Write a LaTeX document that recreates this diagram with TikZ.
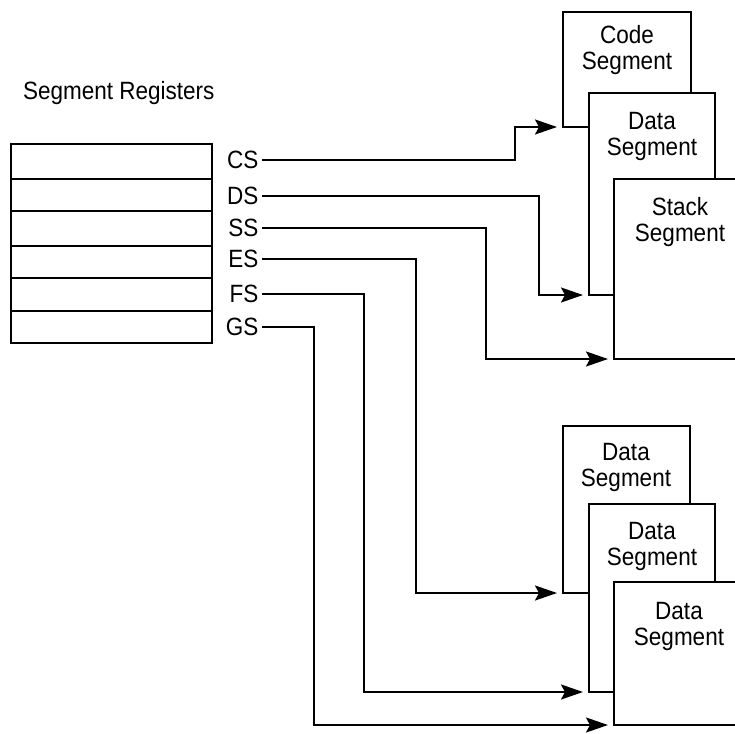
\documentclass[tikz,border=0pt]{standalone}
\usepackage{fontspec}
\setmainfont{Liberation Sans}[FakeStretch=0.9]
\usetikzlibrary{arrows.meta}
\begin{document}
\begin{tikzpicture}[x=1pt,y=-1pt,line width=2.2pt,
  reg/.style={draw, minimum width=201pt, inner sep=0pt, outer sep=0pt, anchor=north west},
  seg/.style={draw, fill=white, inner sep=0pt, outer sep=0pt, anchor=north west},
  lbl/.style={font=\fontsize{25}{26}\selectfont, align=center, inner sep=0pt},
  rlbl/.style={lbl, inner xsep=2.5pt, anchor=east},
  arr/.style={-{Stealth[length=22pt 0 0,width=15pt 0 0,inset=4pt 0]}, shorten >=6pt}]
\useasboundingbox (0,0) rectangle (734,734);
\fill[white] (0,0) rectangle (734,734);

% title
\node[lbl, anchor=base west] (title) at (22,99) {Segment Registers};

% register stack
\node[reg, minimum height=35pt] (r1) at (11,144) {};
\node[reg, minimum height=32pt] (r2) at (11,179) {};
\node[reg, minimum height=35pt] (r3) at (11,211) {};
\node[reg, minimum height=32pt] (r4) at (11,246) {};
\node[reg, minimum height=33pt] (r5) at (11,278) {};
\node[reg, minimum height=32pt] (r6) at (11,311) {};

% register labels
\node[rlbl] (cs) at (262,160) {CS};
\node[rlbl] (ds) at (262,196) {DS};
\node[rlbl] (ss) at (262,228) {SS};
\node[rlbl] (es) at (262,259) {ES};
\node[rlbl] (fs) at (262,294) {FS};
\node[rlbl] (gs) at (262,327) {GS};

% upper segments
\node[seg, minimum width=128pt, minimum height=115pt] (code) at (563,12) {};
\node[seg, minimum width=126pt, minimum height=202pt] (data1) at (589,93) {};
\node[seg, minimum width=132pt, minimum height=180pt] (stack) at (614,179) {};
\node[lbl] (tcode) at (627,50) {Code\\Segment};
\node[lbl] (tdata1) at (652,136) {Data\\Segment};
\node[lbl] (tstack) at (680,222) {Stack\\Segment};

% lower segments
\node[seg, minimum width=127pt, minimum height=167pt] (bdata1) at (563,426) {};
\node[seg, minimum width=126pt, minimum height=188pt] (bdata2) at (589,504) {};
\node[seg, minimum width=132pt, minimum height=143pt] (bdata3) at (614,582) {};
\node[lbl] (tb1) at (626,467) {Data\\Segment};
\node[lbl] (tb2) at (652,546) {Data\\Segment};
\node[lbl] (tb3) at (679,626) {Data\\Segment};

% connectors
\draw[arr] (cs.east) -| (515,127) -- (code.south west);
\draw[arr] (ds.east) -| (539,295) -- (data1.south west);
\draw[arr] (ss.east) -| (486,359) -- (stack.south west);
\draw[arr] (es.east) -| (416,593) -- (bdata1.south west);
\draw[arr] (fs.east) -| (364,692) -- (bdata2.south west);
\draw[arr] (gs.east) -| (314,725) -- (bdata3.south west);
\end{tikzpicture}
\end{document}
